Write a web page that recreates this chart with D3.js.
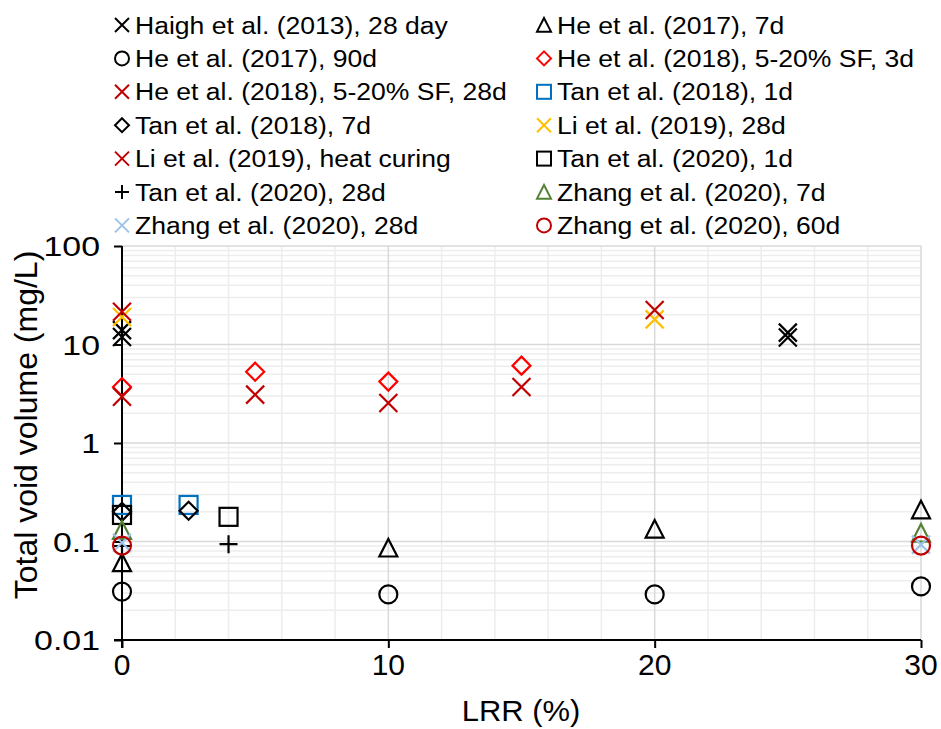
<!DOCTYPE html>
<html>
<head>
<meta charset="utf-8">
<script src="https://cdn.jsdelivr.net/npm/d3@7"></script>
<style>
  html, body { margin: 0; padding: 0; background: #fff; }
  svg { display: block; }
  text { font-family: "Liberation Sans", Arial, sans-serif; fill: #000; }
</style>
</head>
<body>
<svg id="chart" width="941" height="729"></svg>
<script>
// ---------------- DATA ----------------
const seriesNames = [
  "Haigh et al. (2013), 28 day",
  "He et al. (2017), 7d",
  "He et al. (2017), 90d",
  "He et al. (2018), 5-20% SF, 3d",
  "He et al. (2018), 5-20% SF, 28d",
  "Tan et al. (2018), 1d",
  "Tan et al. (2018), 7d",
  "Li et al. (2019), 28d",
  "Li et al. (2019), heat curing",
  "Tan et al. (2020), 1d",
  "Tan et al. (2020), 28d",
  "Zhang et al. (2020), 7d",
  "Zhang et al. (2020), 28d",
  "Zhang et al. (2020), 60d"
];
const seriesX = [
  [0, 0, 25, 25],
  [0, 10, 20, 30],
  [0, 10, 20, 30],
  [0, 5, 10, 15],
  [0, 5, 10, 15],
  [0, 2.5],
  [0, 2.5],
  [0, 20],
  [0, 20],
  [0, 4],
  [0, 4],
  [0, 30],
  [0, 30],
  [0, 30]
];
const seriesY = [
  [14.0, 11.9, 13.2, 11.8],
  [0.061, 0.086, 0.134, 0.21],
  [0.031, 0.029, 0.029, 0.035],
  [3.7, 5.3, 4.2, 6.1],
  [2.95, 3.1, 2.55, 3.7],
  [0.235, 0.235],
  [0.2, 0.205],
  [19.0, 18.0],
  [21.5, 22.4],
  [0.186, 0.178],
  [0.09, 0.094],
  [0.13, 0.122],
  [0.097, 0.093],
  [0.091, 0.091]
];
const xTicks = [0, 10, 20, 30];
const yTicks = [0.01, 0.1, 1, 10, 100];
const yTickLabels = ["0.01", "0.1", "1", "10", "100"];
const xTitle = "LRR (%)";
const yTitle = "Total void volume (mg/L)";

// ---------------- STYLE ----------------
const seriesSymbol = ["x", "tri", "circ", "diam", "x", "sq", "diam", "x", "x", "sq", "plus", "tri", "x", "circ"];
const seriesColor = ["#000000", "#000000", "#000000", "#FF0000", "#C00000", "#0070C0", "#000000",
                     "#FFC000", "#C00000", "#000000", "#000000", "#548235", "#9DC3E6", "#C00000"];

// ---------------- LAYOUT ----------------
const svg = d3.select("#chart");
const L = 122, R = 921, T = 246, B = 640;
const x = d3.scaleLinear().domain([0, 30]).range([L, R]);
const y = d3.scaleLog().domain([0.01, 100]).range([B, T]);

// gridlines
const g = svg.append("g");
const vMinor = d3.range(2, 30, 2).filter(v => v % 10 !== 0);
g.selectAll(".vmin").data(vMinor).enter().append("line")
  .attr("x1", d => x(d)).attr("x2", d => x(d)).attr("y1", T).attr("y2", B)
  .attr("stroke", "#EDEDED").attr("stroke-width", 1.5);
const hMinor = [];
for (let e = -2; e < 2; e++) for (let m = 2; m <= 9; m++) hMinor.push(m * Math.pow(10, e));
g.selectAll(".hmin").data(hMinor).enter().append("line")
  .attr("x1", L).attr("x2", R).attr("y1", d => y(d)).attr("y2", d => y(d))
  .attr("stroke", "#EDEDED").attr("stroke-width", 1.5);
g.selectAll(".vmaj").data([10, 20, 30]).enter().append("line")
  .attr("x1", d => x(d)).attr("x2", d => x(d)).attr("y1", T).attr("y2", B)
  .attr("stroke", "#D9D9D9").attr("stroke-width", 1.5);
g.selectAll(".hmaj").data([0.1, 1, 10, 100]).enter().append("line")
  .attr("x1", L).attr("x2", R).attr("y1", d => y(d)).attr("y2", d => y(d))
  .attr("stroke", "#D9D9D9").attr("stroke-width", 1.5);

// axes
const xAxis = d3.axisBottom(x).tickValues(xTicks).tickSize(8).tickFormat("");
const yAxis = d3.axisLeft(y).tickValues(yTicks).tickSize(8).tickFormat("");
const xg = svg.append("g").attr("transform", `translate(0,${B})`).call(xAxis);
const yg = svg.append("g").attr("transform", `translate(${L},0)`).call(yAxis);
[xg, yg].forEach(a => {
  a.select(".domain").attr("stroke", "#000").attr("stroke-width", 2);
  a.selectAll(".tick line").attr("stroke", "#000").attr("stroke-width", 2);
});
xg.select(".domain").attr("d", `M${L - 8},0H${R}`);
yg.select(".domain").attr("d", `M0,${B + 8}V${T}`);

// tick labels
svg.append("g").selectAll("text").data(xTicks).enter().append("text")
  .attr("transform", d => `translate(${x(d)},675)`)
  .attr("text-anchor", "middle").attr("font-size", 30).text(d => d);
svg.append("g").selectAll("text").data(yTicks).enter().append("text")
  .attr("transform", d => `translate(100,${y(d) + 10}) scale(1.21,1)`)
  .attr("text-anchor", "end").attr("font-size", 28).text((d, i) => yTickLabels[i]);

// titles
svg.append("text").attr("transform", "translate(521,721) scale(1.03,1)")
  .attr("text-anchor", "middle").attr("font-size", 30).text(xTitle);
svg.append("text").attr("transform", "translate(37,425) rotate(-90)")
  .attr("text-anchor", "middle").attr("font-size", 32).text(yTitle);

// symbols
function drawSymbol(sel, type, color, h, sw) {
  if (type === "x") {
    sel.append("path").attr("d", `M${-h},${-h}L${h},${h}M${-h},${h}L${h},${-h}`)
      .attr("stroke", color).attr("stroke-width", sw).attr("fill", "none");
  } else if (type === "plus") {
    sel.append("path").attr("d", `M${-h},0L${h},0M0,${-h}L0,${h}`)
      .attr("stroke", color).attr("stroke-width", sw).attr("fill", "none");
  } else if (type === "circ") {
    sel.append("circle").attr("r", h).attr("stroke", color).attr("stroke-width", sw).attr("fill", "none");
  } else if (type === "sq") {
    sel.append("rect").attr("x", -h).attr("y", -h).attr("width", 2 * h).attr("height", 2 * h)
      .attr("stroke", color).attr("stroke-width", sw).attr("fill", "none");
  } else if (type === "diam") {
    sel.append("path").attr("d", `M0,${-h}L${h},0L0,${h}L${-h},0Z`)
      .attr("stroke", color).attr("stroke-width", sw).attr("fill", "none");
  } else if (type === "tri") {
    sel.append("path").attr("d", `M0,${-h}L${h},${h * 0.95}L${-h},${h * 0.95}Z`)
      .attr("stroke", color).attr("stroke-width", sw).attr("fill", "none").attr("stroke-linejoin", "miter");
  }
}

const plot = svg.append("g");
seriesNames.forEach((name, i) => {
  const pts = seriesX[i].map((xv, j) => [xv, seriesY[i][j]]);
  const sg = plot.append("g");
  pts.forEach(p => {
    const m = sg.append("g").attr("transform", `translate(${x(p[0])},${y(p[1])})`);
    drawSymbol(m, seriesSymbol[i], seriesColor[i], 9, 2.2);
  });
});

// legend
const leg = svg.append("g");
seriesNames.forEach((name, i) => {
  const col = i % 2, row = Math.floor(i / 2);
  const mx = col === 0 ? 122 : 544;
  const cy = 25 + row * 33.4;
  const m = leg.append("g").attr("transform", `translate(${mx},${cy})`);
  drawSymbol(m, seriesSymbol[i], seriesColor[i], 7, 2);
  leg.append("text").attr("transform", `translate(${mx + 13},${cy + 8.5}) scale(1.13,1)`)
    .attr("font-size", 23.5).text(name);
});
</script>
</body>
</html>
